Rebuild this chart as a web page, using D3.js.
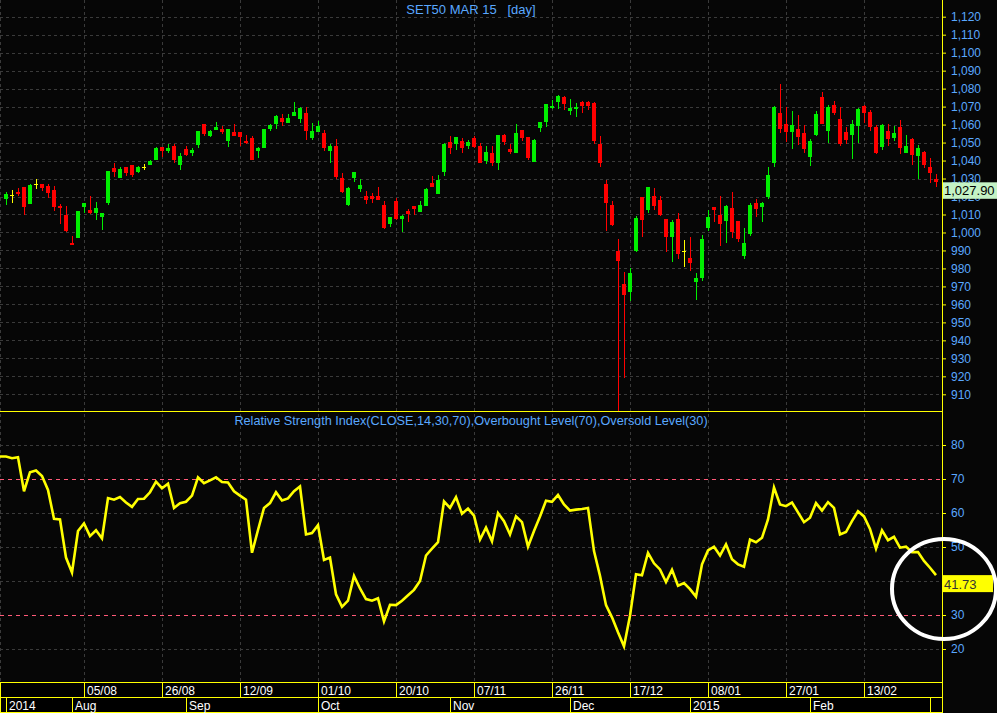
<!DOCTYPE html>
<html><head><meta charset="utf-8">
<script src="https://cdn.jsdelivr.net/npm/d3@7"></script>
<style>
html,body{margin:0;padding:0;background:#060606;}
svg{display:block;font-family:"Liberation Sans",Arial,sans-serif;}
</style></head>
<body>
<svg id="chart" width="997" height="713"></svg>
<script>
// ---------- data ----------
const title = "SET50 MAR 15\u00a0\u00a0\u00a0[day]";
const rsiTitle = "Relative Strength Index(CLOSE,14,30,70),Overbought Level(70),Oversold Level(30)";
// bar index k = 1..156
const openP = [1018.6,1020.8,1022.5,1025.3,1015.8,1026.9,1026.9,1025.8,1023.6,1014.9,1009.7,994.3,996.9,1014.3,1012.3,1010.8,1008.6,1016.2,1035.8,1030.3,1036.4,1037.5,1033.6,1036.4,1037.5,1040.3,1047.5,1045.3,1048.1,1037.5,1046.4,1044.2,1048.6,1060.1,1053.6,1057.0,1057.5,1050.9,1055.9,1055.9,1050.9,1052.5,1045.3,1047.0,1057.5,1060.3,1063.7,1060.9,1064.8,1063.1,1066.4,1052.5,1055.9,1055.3,1045.3,1048.1,1030.3,1015.2,1030.3,1024.1,1020.2,1020.2,1020.2,1015.2,1004.7,1017.5,1007.4,1011.9,1014.7,1011.3,1014.7,1027.5,1021.4,1033.6,1050.3,1049.2,1050.9,1048.1,1052.5,1048.1,1039.7,1044.2,1038.6,1054.2,1046.4,1044.2,1057.0,1053.1,1039.2,1058.1,1061.4,1069.2,1072.6,1075.3,1067.6,1068.7,1072.6,1072.6,1072.0,1049.2,1026.9,1015.2,989.6,971.3,967.0,989.6,1019.7,1012.6,1020.2,1018.0,1007.4,997.6,1007.4,989.8,985.7,972.6,974.6,1002.6,1014.1,1009.9,1006.5,1013.6,1006.3,987.0,999.3,1016.3,1014.3,1019.9,1038.8,1066.4,1060.1,1056.0,1057.5,1055.3,1042.1,1054.4,1075.3,1056.6,1070.9,1063.1,1055.9,1054.4,1059.4,1070.3,1067.0,1058.6,1047.7,1056.4,1052.7,1058.6,1044.4,1052.2,1042.7,1044.7,1036.6,1029.9];
const highP = [1022.3,1023.6,1024.5,1025.3,1026.9,1029.7,1026.9,1026.7,1025.8,1015.6,1014.7,998.0,1011.7,1016.2,1020.2,1016.7,1010.8,1034.2,1038.6,1036.4,1036.4,1037.5,1036.9,1038.1,1040.3,1047.5,1047.5,1049.2,1049.2,1044.2,1048.1,1047.0,1056.4,1060.1,1057.0,1061.4,1059.2,1057.5,1060.3,1055.9,1054.2,1053.6,1047.5,1057.5,1060.3,1065.3,1065.9,1065.9,1072.6,1069.8,1069.8,1060.9,1062.0,1057.0,1049.2,1052.0,1033.0,1025.3,1033.6,1029.7,1023.0,1021.9,1025.3,1017.5,1008.6,1019.1,1009.7,1013.0,1014.7,1017.5,1024.7,1031.4,1031.9,1049.7,1053.6,1053.1,1052.5,1051.4,1053.6,1049.7,1048.1,1048.1,1054.2,1054.7,1049.2,1060.3,1057.0,1053.1,1052.0,1061.4,1071.4,1073.7,1076.5,1075.9,1074.2,1072.0,1073.1,1073.1,1072.6,1053.6,1029.1,1017.5,996.3,978.0,980.2,1009.1,1019.7,1025.3,1024.7,1020.2,1007.4,1007.1,1010.8,995.7,997.4,977.4,998.5,1012.4,1014.1,1020.2,1015.2,1022.5,1006.3,1002.6,1016.5,1018.6,1016.9,1036.4,1070.3,1082.6,1070.0,1067.6,1065.3,1059.9,1052.2,1067.6,1078.1,1070.9,1073.1,1069.8,1058.6,1062.5,1069.2,1070.9,1068.1,1059.9,1060.3,1060.3,1059.2,1062.5,1054.2,1052.7,1048.6,1045.3,1041.6,1032.7];
const lowP = [1015.2,1016.3,1020.4,1009.9,1015.8,1024.1,1023.2,1019.3,1011.9,1004.7,1000.2,993.2,996.9,1010.8,1010.0,1006.9,1001.3,1015.2,1030.8,1030.3,1031.4,1030.8,1033.0,1034.7,1037.5,1040.3,1042.0,1044.2,1038.6,1034.7,1042.5,1042.5,1047.0,1053.6,1053.1,1057.0,1054.7,1047.5,1053.6,1048.1,1049.2,1040.3,1041.4,1047.0,1056.4,1057.5,1059.2,1060.9,1064.8,1060.9,1051.4,1051.4,1055.9,1045.3,1038.6,1029.7,1021.9,1014.7,1028.0,1022.5,1015.8,1016.3,1018.0,1001.9,1003.0,1006.9,1000.2,1005.8,1009.7,1011.3,1014.7,1025.3,1021.4,1031.4,1043.6,1045.8,1044.2,1046.4,1047.0,1038.6,1038.1,1036.9,1034.7,1048.6,1043.6,1044.2,1050.9,1040.3,1039.2,1055.9,1058.6,1068.7,1068.7,1068.1,1065.3,1064.2,1066.4,1068.1,1049.2,1036.4,1000.8,1003.5,895.0,918.9,962.0,989.1,997.6,1011.1,1012.6,1009.3,989.3,983.3,985.4,980.7,978.7,962.2,973.1,1000.9,1005.8,992.6,994.2,997.1,994.8,985.4,998.2,1008.8,1006.0,1018.8,1036.6,1055.5,1050.5,1046.6,1048.8,1044.4,1037.1,1053.8,1060.3,1049.9,1065.3,1048.3,1049.0,1041.0,1049.9,1060.9,1056.6,1043.8,1046.0,1048.3,1051.0,1043.8,1044.4,1037.7,1029.9,1036.0,1027.7,1025.4];
const closeP = [1021.4,1020.8,1021.4,1014.3,1026.4,1026.9,1024.7,1021.9,1014.3,1013.7,1000.8,993.2,1011.7,1016.2,1010.8,1013.6,1010.8,1034.2,1033.6,1035.3,1033.0,1031.9,1036.4,1036.4,1039.7,1047.0,1045.3,1047.0,1040.3,1042.5,1043.1,1045.8,1056.4,1054.7,1056.4,1058.6,1055.9,1057.5,1053.6,1053.1,1049.7,1040.3,1047.0,1057.5,1059.8,1064.8,1061.4,1063.7,1067.0,1069.2,1056.4,1056.4,1059.2,1047.0,1048.1,1030.8,1022.5,1024.7,1033.6,1026.4,1018.0,1018.6,1018.0,1002.4,1008.6,1007.4,1009.1,1010.2,1013.0,1015.2,1024.1,1025.3,1029.1,1049.2,1047.0,1053.1,1047.0,1050.3,1047.5,1038.6,1044.7,1038.6,1054.2,1050.3,1044.7,1055.3,1052.5,1041.4,1051.4,1061.4,1071.4,1070.3,1075.9,1071.4,1069.2,1069.8,1070.3,1070.3,1050.9,1038.6,1016.3,1004.1,984.2,965.3,977.4,1008.0,1007.1,1025.3,1014.9,1009.9,997.6,1006.0,988.1,989.8,983.1,974.6,996.3,1008.6,1012.6,1004.7,1014.7,1000.4,996.5,994.1,1015.4,1013.2,1016.3,1031.9,1069.8,1057.7,1056.0,1059.8,1053.3,1046.6,1051.0,1065.9,1060.3,1069.8,1066.4,1049.4,1051.6,1060.3,1068.7,1066.4,1058.8,1044.4,1059.8,1052.2,1055.3,1047.1,1047.9,1043.2,1047.0,1037.7,1033.2,1027.9];
// RSI for bar index k = 0..156
const rsiValues = [76.6,76.6,76.1,76.4,66.4,72.0,72.5,70.9,66.8,58.3,58.1,46.9,42.5,54.7,56.9,53.2,54.9,52.5,64.4,63.9,64.7,63.1,61.8,64.1,64.2,66.1,69.2,67.3,68.6,61.5,62.9,63.3,65.1,70.5,68.8,69.6,70.5,69.1,69.0,66.4,65.1,63.9,48.3,55.0,61.5,62.9,66.1,63.7,64.3,66.4,67.8,53.7,54.1,56.4,46.2,46.9,36.1,32.4,34.2,41.5,37.8,34.7,34.2,34.9,28.1,33.0,32.9,34.2,35.8,37.4,40.0,47.5,49.5,51.4,63.4,61.5,64.7,59.8,61.3,59.2,52.2,55.7,51.7,60.0,57.6,53.7,59.0,57.3,50.1,54.7,59.0,63.6,63.3,65.3,62.5,60.7,61.0,61.2,61.5,48.8,41.5,32.9,29.3,24.9,20.8,29.8,42.0,41.7,48.3,45.2,43.4,39.7,43.3,38.6,39.4,37.6,35.4,44.9,49.0,50.1,47.5,50.8,46.4,44.9,44.2,52.2,51.4,52.7,58.1,67.5,62.5,62.0,63.1,60.2,57.3,58.6,62.9,60.7,63.2,61.5,53.7,54.4,57.6,60.5,59.0,55.3,49.5,54.9,52.0,53.0,49.8,50.1,48.5,48.5,45.9,43.9,41.73];
const priceTicks = d3.range(910, 1121, 10);
const rsiTicks = [20, 30, 40, 50, 60, 70, 80];
const rsiLevels = [70, 30];
const dayLabels = ["05/08","26/08","12/09","01/10","20/10","07/11","26/11","17/12","08/01","27/01","13/02"];
const dayLabelIdx = [14, 27, 40, 53, 66, 79, 92, 105, 118, 131, 144];
const monthLabels = ["", "2014", "Aug", "Sep", "Oct", "Nov", "Dec", "2015", "Feb", ""];
const monthIdx = [0, 1, 12, 31, 53, 75, 95, 115, 135, 155];
const lastIdx = 157;

// ---------- layout ----------
const svg = d3.select("#chart");
const W = 997, H = 713, plotR = 942;
const priceTop = 0, priceBot = 411, rsiBot = 682;
const x = d3.scaleLinear().domain([0, lastIdx]).range([0, plotR]);
const yP = d3.scaleLinear().domain([910, 1120]).range([394.3, 16.7]);
const yR = d3.scaleLinear().domain([20, 80]).range([649, 445]);
const gridCol = "#3a3a3a", axisCol = "#ffff00", labelCol = "#5aa8ff";

svg.append("rect").attr("width", W).attr("height", H).attr("fill", "#060606");

const defs = svg.append("defs");
defs.append("clipPath").attr("id", "pclip").append("rect")
  .attr("x", 0).attr("y", priceTop).attr("width", plotR).attr("height", priceBot - priceTop);
defs.append("clipPath").attr("id", "rclip").append("rect")
  .attr("x", 0).attr("y", priceBot + 1).attr("width", plotR).attr("height", rsiBot - priceBot - 1);

// gridlines
const grid = svg.append("g").attr("shape-rendering", "crispEdges");
grid.selectAll("line.ph").data(priceTicks).join("line")
  .attr("x1", 0).attr("x2", plotR).attr("y1", d => Math.round(yP(d)) + 0.5).attr("y2", d => Math.round(yP(d)) + 0.5)
  .attr("stroke", gridCol).attr("stroke-dasharray", "3,3");
grid.selectAll("line.rh").data(rsiTicks.filter(d => !rsiLevels.includes(d))).join("line")
  .attr("x1", 0).attr("x2", plotR).attr("y1", d => Math.round(yR(d)) + 0.5).attr("y2", d => Math.round(yR(d)) + 0.5)
  .attr("stroke", gridCol).attr("stroke-dasharray", "3,3");
grid.selectAll("line.v").data([0].concat(dayLabelIdx)).join("line")
  .attr("x1", d => Math.round(x(d)) + 0.5).attr("x2", d => Math.round(x(d)) + 0.5)
  .attr("y1", 0).attr("y2", rsiBot)
  .attr("stroke", gridCol).attr("stroke-dasharray", "3,3");
grid.selectAll("line.lv").data(rsiLevels).join("line")
  .attr("x1", 0).attr("x2", plotR).attr("y1", d => Math.round(yR(d)) + 0.5).attr("y2", d => Math.round(yR(d)) + 0.5)
  .attr("stroke", "#ff5a78").attr("stroke-dasharray", "4,4");

// candles
const candles = d3.range(openP.length).map(i => ({k: i + 1, o: openP[i], h: highP[i], l: lowP[i], c: closeP[i]}));
const colorOf = d => d.c > d.o ? "#00ee00" : (d.c < d.o ? "#ff0000" : "#ffff00");
const cg = svg.append("g").attr("clip-path", "url(#pclip)").attr("shape-rendering", "crispEdges");
cg.selectAll("rect.wick").data(candles).join("rect")
  .attr("x", d => x(d.k) - 0.5).attr("width", 1)
  .attr("y", d => yP(d.h)).attr("height", d => Math.max(1, yP(d.l) - yP(d.h)))
  .attr("fill", colorOf);
cg.selectAll("rect.body").data(candles).join("rect")
  .attr("x", d => x(d.k) - 2).attr("width", 4)
  .attr("y", d => yP(Math.max(d.o, d.c)))
  .attr("height", d => Math.max(1.2, Math.abs(yP(d.o) - yP(d.c))))
  .attr("fill", colorOf);

// title
svg.append("text").attr("x", plotR / 2).attr("y", 14).attr("text-anchor", "middle")
  .attr("fill", labelCol).attr("font-size", 13).text(title);

// separator
svg.append("line").attr("x1", 0).attr("x2", plotR).attr("y1", priceBot + 0.5).attr("y2", priceBot + 0.5)
  .attr("stroke", axisCol).attr("stroke-width", 1);
svg.append("text").attr("x", plotR / 2).attr("y", 425).attr("text-anchor", "middle")
  .attr("fill", labelCol).attr("font-size", 12.7).text(rsiTitle);

// RSI line
const line = d3.line().x((d, i) => x(i)).y(d => yR(d));
svg.append("g").attr("clip-path", "url(#rclip)").append("path").datum(rsiValues)
  .attr("d", line).attr("fill", "none").attr("stroke", "#ffff00").attr("stroke-width", 2.6)
  .attr("stroke-linejoin", "miter");

// axes
const axP = svg.append("g").attr("transform", `translate(${plotR},0)`)
  .call(d3.axisRight(yP).tickValues(priceTicks).tickFormat(d3.format(",")).tickSize(4).tickPadding(5));
const axR = svg.append("g").attr("transform", `translate(${plotR},0)`)
  .call(d3.axisRight(yR).tickValues(rsiTicks).tickSize(4).tickPadding(5));
[axP, axR].forEach(a => {
  a.select(".domain").remove();
  a.selectAll(".tick line").attr("stroke", axisCol);
  a.selectAll(".tick text").attr("fill", labelCol).attr("font-size", 12)
    .attr("font-family", "Liberation Sans, Arial, sans-serif");
});
svg.append("line").attr("x1", plotR + 0.5).attr("x2", plotR + 0.5).attr("y1", 0).attr("y2", rsiBot)
  .attr("stroke", axisCol);

// last value labels
const lastC = closeP[closeP.length - 1];
svg.append("rect").attr("x", plotR + 1).attr("y", yP(lastC)).attr("width", W - plotR - 1).attr("height", 16.5)
  .attr("fill", "#c4f2c4");
svg.append("text").attr("x", plotR + 2).attr("y", yP(lastC) + 13).attr("fill", "#000")
  .attr("font-size", 13).text(d3.format(",.2f")(lastC));
const lastR = rsiValues[rsiValues.length - 1];
svg.append("rect").attr("x", plotR + 1).attr("y", yR(lastR)).attr("width", 50).attr("height", 17)
  .attr("fill", "#ffff00");
svg.append("text").attr("x", plotR + 2).attr("y", yR(lastR) + 13.5).attr("fill", "#333")
  .attr("font-size", 13).text(d3.format(".2f")(lastR));

// date axis
const dg = svg.append("g").attr("shape-rendering", "crispEdges");
const topB = [0].concat(dayLabelIdx).map(d => x(d)).concat([plotR]);
const topRow = topB.slice(0, -1).map((b, i) => ({x0: b, x1: topB[i + 1], t: i === 0 ? "" : dayLabels[i - 1]}));
dg.selectAll("rect.tr").data(topRow).join("rect")
  .attr("x", d => d.x0 + 0.5).attr("y", rsiBot + 0.5).attr("width", d => d.x1 - d.x0).attr("height", 15)
  .attr("fill", "#000").attr("stroke", axisCol);
dg.selectAll("text.tr").data(topRow).join("text")
  .attr("x", d => d.x0 + 3).attr("y", rsiBot + 12.5).attr("fill", "#fff").attr("font-size", 12).text(d => d.t);
const botB = monthIdx.map(d => x(d)).concat([plotR]);
const botRow = botB.slice(0, -1).map((b, i) => ({x0: b, x1: botB[i + 1], t: monthLabels[i]}));
dg.selectAll("rect.br").data(botRow).join("rect")
  .attr("x", d => d.x0 + 0.5).attr("y", rsiBot + 15.5).attr("width", d => d.x1 - d.x0).attr("height", 15)
  .attr("fill", "#000").attr("stroke", axisCol);
dg.selectAll("text.br").data(botRow).join("text")
  .attr("x", d => d.x0 + 3).attr("y", rsiBot + 28).attr("fill", "#fff").attr("font-size", 12).text(d => d.t);

// highlight circle
svg.append("ellipse").attr("cx", 944).attr("cy", 589).attr("rx", 52).attr("ry", 50)
  .attr("fill", "none").attr("stroke", "#fff").attr("stroke-width", 4);
</script>
</body></html>
